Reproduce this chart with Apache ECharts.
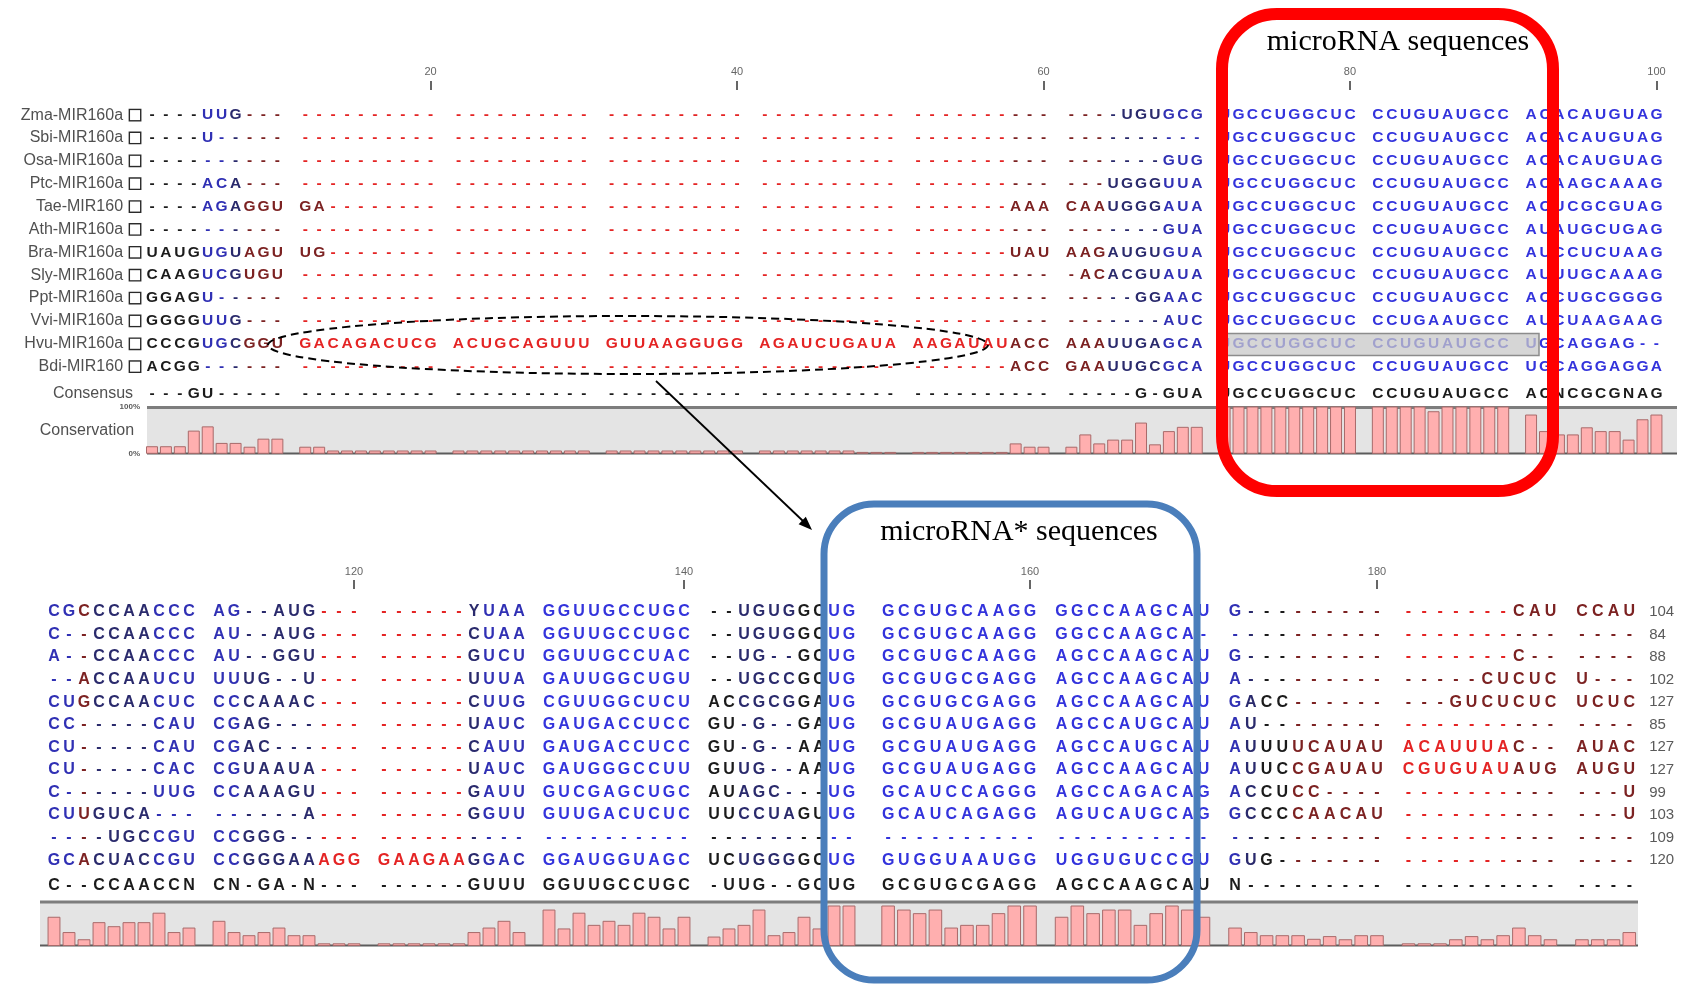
<!DOCTYPE html>
<html>
<head>
<meta charset="utf-8">
<script src="https://cdn.jsdelivr.net/npm/echarts@6/dist/echarts.min.js"></script>
<style>
  html, body { margin: 0; padding: 0; background: #ffffff; }
  #chart { width: 1686px; height: 986px; }
</style>
</head>
<body>
<div id="chart"></div>
<script>
// ---- MIR160 precursor alignment (blocks of 10 columns, spaces only for readability) ----
const species = [
  'Zma-MIR160a', 'Sbi-MIR160a', 'Osa-MIR160a', 'Ptc-MIR160a', 'Tae-MIR160', 'Ath-MIR160a',
  'Bra-MIR160a', 'Sly-MIR160a', 'Ppt-MIR160a', 'Vvi-MIR160a', 'Hvu-MIR160a', 'Bdi-MIR160'
];

const alignment = [
  '----UUG--- ---------- ---------- ---------- ---------- ---------- ----UGUGCG UGCCUGGCUC CCUGUAUGCC ACACAUGUAG ' +
  'CGCCCAACCC AG--AUG--- ------YUAA GGUUGCCUGC --UGUGGCUG GCGUGCAAGG GGCCAAGCAU G--------- -------CAU CCAU',
  '----U----- ---------- ---------- ---------- ---------- ---------- ---------- UGCCUGGCUC CCUGUAUGCC ACACAUGUAG ' +
  'C--CCAACCC AU--AUG--- ------CUAA GGUUGCCUGC --UGUGGCUG GCGUGCAAGG GGCCAAGCA- ---------- ---------- ----',
  '---------- ---------- ---------- ---------- ---------- ---------- -------GUG UGCCUGGCUC CCUGUAUGCC ACACAUGUAG ' +
  'A--CCAACCC AU--GGU--- ------GUCU GGUUGCCUAC --UG--GCUG GCGUGCAAGG AGCCAAGCAU G--------- -------C-- ----',
  '----ACA--- ---------- ---------- ---------- ---------- ---------- ---UGGGUUA UGCCUGGCUC CCUGUAUGCC ACAAGCAAAG ' +
  '--ACCAAUCU UUUG--U--- ------UUUA GAUUGGCUGU --UGCCGCUG GCGUGCGAGG AGCCAAGCAU A--------- -----CUCUC U---',
  '----AGAGGU GA-------- ---------- ---------- ---------- -------AAA CAAUGGGAUA UGCCUGGCUC CCUGUAUGCC ACUCGCGUAG ' +
  'CUGCCAACUC CCCAAAC--- ------CUUG CGUUGGCUCU ACCGCGGAUG GCGUGCGAGG AGCCAAGCAU GACC------ ---GUCUCUC UCUC',
  '---------- ---------- ---------- ---------- ---------- ---------- -------GUA UGCCUGGCUC CCUGUAUGCC AUAUGCUGAG ' +
  'CC-----CAU CGAG------ ------UAUC GAUGACCUCC GU-G--GAUG GCGUAUGAGG AGCCAUGCAU AU-------- ---------- ----',
  'UAUGUGUAGU UG-------- ---------- ---------- ---------- -------UAU AAGAUGUGUA UGCCUGGCUC CCUGUAUGCC AUCCUCUAAG ' +
  'CU-----CAU CGAC------ ------CAUU GAUGACCUCC GU-G--AAUG GCGUAUGAGG AGCCAUGCAU AUUUUCAUAU ACAUUUAC-- AUAC',
  'CAAGUCGUGU ---------- ---------- ---------- ---------- ---------- -ACACGUAUA UGCCUGGCUC CCUGUAUGCC AUUUGCAAAG ' +
  'CU-----CAC CGUAAUA--- ------UAUC GAUGGGCCUU GUUG--AAUG GCGUAUGAGG AGCCAAGCAU AUUCCGAUAU CGUGUAUAUG AUGU',
  'GGAGU----- ---------- ---------- ---------- ---------- ---------- -----GGAAC UGCCUGGCUC CCUGUAUGCC ACCUGCGGGG ' +
  'C------UUG CCAAAGU--- ------GAUU GUCGAGCUGC AUAGC---UG GCAUCCAGGG AGCCAGACAG ACCUCC---- ---------- ---U',
  'GGGGUUG--- ---------- ---------- ---------- ---------- ---------- -------AUC UGCCUGGCUC CCUGAAUGCC AUCUAAGAAG ' +
  'CUUGUCA--- ------A--- ------GGUU GUUGACUCUC UUCCUAGUUG GCAUCAGAGG AGUCAUGCAG GCCCCAACAU ---------- ---U',
  'CCCGUGCGGU GACAGACUCG ACUGCAGUUU GUUAAGGUGG AGAUCUGAUA AAGAUAUACC AAAUUGAGCA UGCCUGGCUC CCUGUAUGCC UGCAGGAG-- ' +
  '----UGCCGU CCGGG----- ---------- ---------- ---------- ---------- ---------- ---------- ---------- ----',
  'ACGG------ ---------- ---------- ---------- ---------- -------ACC GAAUUGCGCA UGCCUGGCUC CCUGUAUGCC UGCAGGAGGA ' +
  'GCACUACCGU CCGGGAAAGG GAAGAAGGAC GGAUGGUAGC UCUGGGGCUG GUGGUAAUGG UGGUGUCCGU GUG------- ---------- ----'
];

const consensus =
  '---GU----- ---------- ---------- ---------- ---------- ---------- -----G-GUA UGCCUGGCUC CCUGUAUGCC ACNCGCGNAG ' +
  'C--CCAACCN CN-GA-N--- ------GUUU GGUUGCCUGC -UUG--GCUG GCGUGCGAGG AGCCAAGCAU N--------- ---------- ----';

// conservation (%) per alignment column 1..194
const conservation = [
  16, 16, 16, 49, 58, 23, 23, 15, 32, 32,
  15, 15, 7, 7, 7, 7, 7, 7, 7, 7,
  7, 7, 7, 7, 7, 7, 7, 7, 7, 7,
  7, 7, 7, 7, 7, 7, 7, 7, 7, 7,
  7, 7, 7, 7, 7, 7, 7, 4, 4, 4,
  4, 4, 4, 4, 4, 4, 4, 22, 15, 15,
  15, 41, 22, 30, 30, 66, 20, 48, 57, 57,
  100, 100, 100, 100, 100, 100, 100, 100, 100, 100,
  100, 100, 100, 100, 90, 100, 100, 100, 100, 100,
  83, 48, 41, 41, 56, 48, 48, 30, 73, 83,
  65, 31, 15, 53, 44, 53, 53, 74, 31, 41,
  56, 31, 24, 31, 41, 24, 24, 6, 6, 6,
  6, 6, 6, 6, 6, 6, 31, 41, 56, 31,
  81, 39, 74, 47, 56, 47, 74, 65, 39, 65,
  21, 39, 47, 81, 24, 31, 65, 39, 90, 90,
  90, 81, 73, 81, 41, 47, 47, 73, 90, 90,
  65, 90, 73, 81, 81, 47, 73, 90, 81, 65,
  41, 31, 24, 24, 24, 16, 22, 15, 24, 24,
  6, 6, 6, 15, 22, 15, 24, 41, 24, 15,
  15, 15, 15, 31
];

// precursor lengths printed at the end of each row
const seqLengths = [104, 84, 88, 102, 127, 85, 127, 127, 99, 103, 109, 120];

const rulerStep = 20;
const miRNATitle = 'microRNA sequences';
const miRNAStarTitle = 'microRNA* sequences';

// ---- colouring: per-column tone (B bright blue ... r red), plus a few cell exceptions ----
const columnTone = [
  'kkkkbbnmmm', 'rrrrrrrrrr', 'rrrrrrrrrr', 'rrrrrrrrrr', 'rrrrrrrrrr',
  'rrrrrrrmmm', 'mmmnnnnbbb', 'BBBBBBBBBB', 'BBBBBBBBBB', 'BBBBBBBBBB',
  'bbmnnnnbbb', 'bbnnnnnrrr', 'rrrrrrnbbb', 'BBBBBBBBBB', 'kknnnnkkBB',
  'BBBBBBBBBB', 'BBBBBBBBBB', 'bnkkmmmmmm', 'rrrrrrrmmm', 'mmmm'
].join('');
const toneOverrides = [
  { row: 4, from: 11, to: 12, tone: 'm' },
  { row: 6, from: 11, to: 12, tone: 'm' },
  { row: 3, from: 181, to: 190, tone: 'm' },
  { row: 4, from: 181, to: 190, tone: 'm' }
];
const TONE_COLORS = { B: '#3333dc', b: '#3030b4', n: '#2a2a6c', k: '#1b1b1b', m: '#7c2222', r: '#e42424' };
const CONSENSUS_COLOR = '#1b1b1b';

function toneFor(row, pos) {
  for (const o of toneOverrides) {
    if (o.row === row && pos >= o.from && pos <= o.to) return o.tone;
  }
  return columnTone[pos - 1];
}

const rows = alignment.map(s => s.replace(/\s+/g, ''));
const consRow = consensus.replace(/\s+/g, '');

// ---- panel layout: the alignment is wrapped into a top panel and a two-part bottom panel ----
const panels = [
  { from: 1, to: 100, firstCenter: 152, pitch: 13.93, row0: 115.1, band: 22.87, consY: 393.6,
    conTop: 406.5, conH: 47.3, rulerOffset: 13.7, fontPx: 15.5, names: true, lengths: false, percent: true },
  { from: 101, to: 150, firstCenter: 54, pitch: 15.0, row0: 611.8, band: 22.58, consY: 886,
    conTop: 901, conH: 45, rulerOffset: 11.5, fontPx: 16, names: false, lengths: false, percent: false },
  { from: 151, to: 194, firstCenter: 888.1, pitch: 15.77, row0: 611.8, band: 22.58, consY: 886,
    conTop: 901, conH: 45, rulerOffset: 11.5, fontPx: 16, names: false, lengths: true, percent: false }
];

const grids = [], xAxes = [], yAxes = [], series = [];
const rulerShown = (i, v) => v !== '' && Number(v) % rulerStep === 0;

function textSeries(xi, yi, data, info, font) {
  return {
    type: 'custom', xAxisIndex: xi, yAxisIndex: yi, data: data, silent: true, z: 3,
    renderItem: (params, api) => {
      const c = info[params.dataIndex];
      const pt = api.coord([api.value(0), api.value(1)]);
      return {
        type: 'text', x: pt[0], y: pt[1], silent: true,
        style: { text: c.ch, fill: c.color, font: font, align: 'center', verticalAlign: 'middle' }
      };
    }
  };
}

panels.forEach(P => {
  const cats = [], slotOf = {};
  for (let p = P.from; p <= P.to; p++) {
    slotOf[p] = cats.length;
    cats.push(String(p));
    if ((p - P.from + 1) % 10 === 0 && p !== P.to) cats.push('');
  }
  const left = P.firstCenter - P.pitch / 2;
  const width = cats.length * P.pitch;
  const font = `bold ${P.fontPx}px "Liberation Sans", Arial, sans-serif`;
  const g = grids.length;

  grids.push({ left: left, width: width, top: P.row0 - P.band / 2, height: P.band * rows.length });
  grids.push({ left: left, width: width, top: P.consY - P.band / 2, height: P.band });
  grids.push({ left: left, width: width, top: P.conTop, height: P.conH });

  // ruler
  xAxes.push({
    type: 'category', gridIndex: g, data: cats, position: 'top', offset: P.rulerOffset,
    axisLine: { show: false }, splitLine: { show: false },
    axisTick: { show: true, alignWithLabel: true, interval: rulerShown, length: 9,
                lineStyle: { color: '#666666', width: 2 } },
    axisLabel: { interval: rulerShown, color: '#666666', fontSize: 11, margin: 12,
                 fontFamily: 'Liberation Sans' }
  });
  xAxes.push({ type: 'category', gridIndex: g + 1, data: cats, show: false });
  xAxes.push({ type: 'category', gridIndex: g + 2, data: cats, show: false });

  // sequence rows
  const rowAxis = {
    type: 'category', gridIndex: g, data: species, inverse: true,
    axisLine: { show: false }, axisTick: { show: false }, splitLine: { show: false },
    axisLabel: { show: false }
  };
  if (P.names) {
    rowAxis.axisLabel = {
      show: true, margin: 5,
      formatter: v => `{n|${v}}{b| }`,
      rich: {
        n: { fontSize: 16, color: '#505050', fontFamily: 'Liberation Sans', padding: [0, 7, 0, 0] },
        b: { width: 10, height: 10, borderColor: '#2a2a2a', borderWidth: 1.4, backgroundColor: '#ffffff' }
      }
    };
  }
  if (P.lengths) {
    rowAxis.position = 'right';
    rowAxis.axisLabel = {
      show: true, margin: 12, color: '#5a5a5a', fontSize: 15, fontFamily: 'Liberation Sans',
      formatter: (v, i) => String(seqLengths[i])
    };
  }
  yAxes.push(rowAxis);

  yAxes.push({
    type: 'category', gridIndex: g + 1, data: ['Consensus'],
    axisLine: { show: false }, axisTick: { show: false },
    axisLabel: { show: P.names, margin: 12, fontSize: 16, color: '#505050', fontFamily: 'Liberation Sans' }
  });

  yAxes.push({
    type: 'value', gridIndex: g + 2, min: 0, max: 100, interval: 100,
    axisLine: { show: false }, axisTick: { show: false }, splitLine: { show: false },
    axisLabel: { show: P.percent, formatter: '{value}%', fontSize: 8, fontWeight: 'bold',
                 color: '#5a5a5a', margin: 5, fontFamily: 'Liberation Sans' },
    name: P.percent ? 'Conservation' : '', nameLocation: 'middle', nameRotate: 0, nameGap: 11,
    nameMoveOverlap: false,
    nameTextStyle: { fontSize: 16, color: '#505050', fontFamily: 'Liberation Sans' }
  });

  // letters
  const data = [], info = [];
  rows.forEach((s, r) => {
    for (let p = P.from; p <= P.to; p++) {
      data.push([slotOf[p], r]);
      info.push({ ch: s[p - 1], color: TONE_COLORS[toneFor(r, p)] });
    }
  });
  series.push(textSeries(xAxes.length - 3, yAxes.length - 3, data, info, font));

  const cData = [], cInfo = [];
  for (let p = P.from; p <= P.to; p++) {
    cData.push([slotOf[p], 0]);
    cInfo.push({ ch: consRow[p - 1], color: CONSENSUS_COLOR });
  }
  series.push(textSeries(xAxes.length - 2, yAxes.length - 2, cData, cInfo, font));

  // conservation bars
  series.push({
    type: 'bar', xAxisIndex: xAxes.length - 1, yAxisIndex: yAxes.length - 1, silent: true, z: 3,
    barWidth: '86%',
    data: cats.map(c => (c === '' ? '-' : conservation[Number(c) - 1])),
    itemStyle: { color: '#ffafaf', borderColor: '#a86a6a', borderWidth: 1 }
  });
});

// ---- conservation backdrops and the annotation overlays ----
const graphic = [
  { type: 'rect', z: 0, silent: true, shape: { x: 147, y: 406.5, width: 1530, height: 47.5 }, style: { fill: '#e4e4e4' } },
  { type: 'line', z: 1, silent: true, shape: { x1: 147, y1: 407.5, x2: 1677, y2: 407.5 }, style: { stroke: '#7d7d7d', lineWidth: 3 } },
  { type: 'line', z: 1, silent: true, shape: { x1: 147, y1: 453.5, x2: 1677, y2: 453.5 }, style: { stroke: '#5c5c5c', lineWidth: 2 } },
  { type: 'rect', z: 0, silent: true, shape: { x: 40, y: 901, width: 1598, height: 45 }, style: { fill: '#e4e4e4' } },
  { type: 'line', z: 1, silent: true, shape: { x1: 40, y1: 902, x2: 1638, y2: 902 }, style: { stroke: '#7d7d7d', lineWidth: 3 } },
  { type: 'line', z: 1, silent: true, shape: { x1: 40, y1: 945.5, x2: 1638, y2: 945.5 }, style: { stroke: '#5c5c5c', lineWidth: 2 } },

  // selected Hvu mature region
  { type: 'rect', z: 8, silent: true, shape: { x: 1226, y: 333.5, width: 313, height: 22 },
    style: { fill: 'rgba(200,200,200,0.74)', stroke: '#8c8c8c', lineWidth: 1.5 } },

  // mature microRNA frame
  { type: 'rect', z: 10, silent: true, shape: { x: 1222, y: 14, width: 331, height: 477, r: 55 },
    style: { fill: 'none', stroke: '#ff0000', lineWidth: 12 } },
  { type: 'text', z: 11, silent: true, x: 1398, y: 42,
    style: { text: miRNATitle, fill: '#000000', font: '30px "Liberation Serif", "Times New Roman", serif',
             align: 'center', verticalAlign: 'middle' } },

  // microRNA* frame
  { type: 'rect', z: 10, silent: true, shape: { x: 824, y: 504, width: 373, height: 476, r: 50 },
    style: { fill: 'none', stroke: '#4a7ebb', lineWidth: 7 } },
  { type: 'text', z: 11, silent: true, x: 1019, y: 532,
    style: { text: miRNAStarTitle, fill: '#000000', font: '30px "Liberation Serif", "Times New Roman", serif',
             align: 'center', verticalAlign: 'middle' } },

  // Hvu insertion outline and pointer
  { type: 'ellipse', z: 10, silent: true, shape: { cx: 628, cy: 345, rx: 360, ry: 29 },
    style: { fill: 'none', stroke: '#000000', lineWidth: 2, lineDash: [8, 5] } },
  { type: 'line', z: 10, silent: true, shape: { x1: 656, y1: 381, x2: 803, y2: 521 },
    style: { stroke: '#000000', lineWidth: 1.8 } },
  { type: 'polygon', z: 10, silent: true, shape: { points: [[812, 530], [798.6, 524.2], [805.8, 516.7]] },
    style: { fill: '#000000' } }
];

const chart = echarts.init(document.getElementById('chart'), null, { renderer: 'canvas' });
chart.setOption({
  animation: false,
  backgroundColor: '#ffffff',
  grid: grids,
  xAxis: xAxes,
  yAxis: yAxes,
  series: series,
  graphic: graphic
});
</script>
</body>
</html>
